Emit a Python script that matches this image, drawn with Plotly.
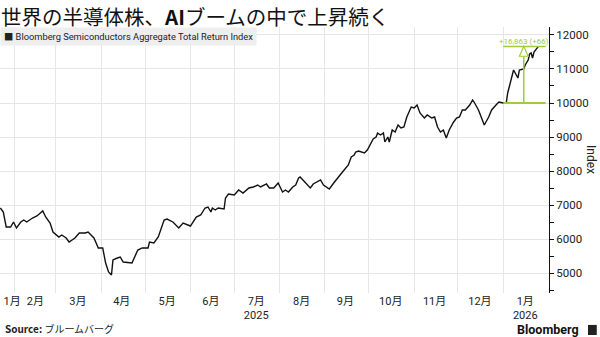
import plotly.graph_objects as go

# ---- data ----
dates = [
    "2025-01-22", "2025-01-24", "2025-01-26", "2025-01-29", "2025-01-31", "2025-02-02", "2025-02-05",
    "2025-02-07", "2025-02-09", "2025-02-13", "2025-02-16", "2025-02-20", "2025-02-22", "2025-02-25",
    "2025-02-27", "2025-03-03", "2025-03-05", "2025-03-08", "2025-03-10", "2025-03-12", "2025-03-14",
    "2025-03-17", "2025-03-21", "2025-03-23", "2025-03-27", "2025-03-30", "2025-04-02", "2025-04-04",
    "2025-04-06", "2025-04-08", "2025-04-09", "2025-04-12", "2025-04-14", "2025-04-16", "2025-04-20",
    "2025-04-22", "2025-04-26", "2025-04-29", "2025-05-03", "2025-05-04", "2025-05-07", "2025-05-10",
    "2025-05-14", "2025-05-16", "2025-05-20", "2025-05-24", "2025-05-27", "2025-05-31", "2025-06-01",
    "2025-06-05", "2025-06-08", "2025-06-11", "2025-06-13", "2025-06-15", "2025-06-16", "2025-06-18",
    "2025-06-20", "2025-06-24", "2025-06-25", "2025-06-27", "2025-07-01", "2025-07-04", "2025-07-07",
    "2025-07-11", "2025-07-14", "2025-07-17", "2025-07-19", "2025-07-23", "2025-07-25", "2025-07-28",
    "2025-07-31", "2025-08-03", "2025-08-05", "2025-08-07", "2025-08-10", "2025-08-12", "2025-08-14",
    "2025-08-15", "2025-08-19", "2025-08-22", "2025-08-24", "2025-08-29", "2025-08-31", "2025-09-04",
    "2025-09-07", "2025-09-10", "2025-09-13", "2025-09-17", "2025-09-19", "2025-09-21", "2025-09-22",
    "2025-09-24", "2025-09-28", "2025-09-30", "2025-10-04", "2025-10-06", "2025-10-07", "2025-10-09",
    "2025-10-11", "2025-10-12", "2025-10-14", "2025-10-15", "2025-10-17", "2025-10-19", "2025-10-21",
    "2025-10-23", "2025-10-25", "2025-10-27", "2025-10-30", "2025-11-01", "2025-11-03", "2025-11-05",
    "2025-11-08", "2025-11-10", "2025-11-13", "2025-11-15", "2025-11-17", "2025-11-19", "2025-11-21",
    "2025-11-23", "2025-11-25", "2025-11-28", "2025-11-30", "2025-12-02", "2025-12-04", "2025-12-06",
    "2025-12-09", "2025-12-11", "2025-12-12", "2025-12-15", "2025-12-17", "2025-12-19", "2025-12-22",
    "2025-12-24", "2025-12-27", "2025-12-29", "2026-01-01", "2026-01-03", "2026-01-04", "2026-01-06",
    "2026-01-08", "2026-01-11", "2026-01-12", "2026-01-15", "2026-01-16", "2026-01-18", "2026-01-19",
    "2026-01-20", "2026-01-21", "2026-01-22", "2026-01-24", "2026-01-25",
]
index_values = [
    6912, 6794, 6353, 6353, 6500, 6324, 6500,
    6559, 6500, 6618, 6677, 6824, 6647, 6471,
    6206, 6059, 6118, 6030, 5912, 5971, 6030,
    6177, 6177, 6206, 6030, 5736, 5736, 5294,
    5030, 4941, 5383, 5441, 5471, 5324, 5294,
    5294, 5677, 5736, 5736, 5912, 5883, 6059,
    6559, 6588, 6500, 6324, 6471, 6412, 6382,
    6647, 6706, 6912, 6941, 6794, 6912, 6853,
    6912, 6882, 7206, 7324, 7294, 7441, 7353,
    7500, 7530, 7588, 7530, 7618, 7500, 7500,
    7647, 7382, 7441, 7382, 7530, 7588, 7794,
    7824, 7647, 7500, 7618, 7735, 7588, 7471,
    7647, 7794, 7971, 8177, 8412, 8471, 8559,
    8588, 8529, 8618, 8941, 9000, 9118, 9059,
    9118, 8853, 9000, 8853, 9206, 9147, 9353,
    9265, 9294, 9588, 9882, 9853, 9941, 9706,
    9559, 9647, 9559, 9588, 9294, 9147, 9206,
    8971, 9206, 9441, 9559, 9588, 9794, 9794,
    9941, 10088, 10029, 9794, 9588, 9353, 9588,
    9794, 9941, 10029, 10000, 10000, 10294, 10618,
    10971, 10735, 10971, 11000, 11118, 11265, 11441,
    11471, 11324, 11500, 11618, 11665,
]

month_starts = [
    "2025-02-01", "2025-03-01", "2025-04-01", "2025-05-01", "2025-06-01", "2025-07-01",
    "2025-08-01", "2025-09-01", "2025-10-01", "2025-11-01", "2025-12-01", "2026-01-01",
]
month_label_dates = [
    "2025-01-30", "2025-02-15", "2025-03-16", "2025-04-15", "2025-05-16", "2025-06-15",
    "2025-07-16", "2025-08-16", "2025-09-15", "2025-10-16", "2025-11-15", "2025-12-16", "2026-01-16",
]
month_labels = ["1月", "2月", "3月", "4月", "5月", "6月", "7月<br>2025", "8月", "9月",
                "10月", "11月", "12月", "1月<br>2026"]
y_ticks = [5000, 6000, 7000, 8000, 9000, 10000, 11000, 12000]
y_tick_labels = ["5000", "6000", "7000", "8000", "9000", "10000", "11000", "12000"]

title_text = "世界の半導体株、<b>AI</b>ブームの中で上昇続く"
legend_text = "■ Bloomberg Semiconductors Aggregate Total Return Index"
source_text = "<b>Source:</b> ブルームバーグ"
delta_text = "+16,863 (+66)"

# ---- figure ----
GREEN = "#9fcc3b"
GRID = "#e6e6e6"
FONT = "Roboto, 'Noto Sans CJK JP', sans-serif"

fig = go.Figure()
fig.add_trace(go.Scatter(
    x=dates, y=index_values, mode="lines",
    line=dict(color="#111111", width=1.4), hoverinfo="skip", showlegend=False,
))

# change marker from start of year to the latest value
base_date = "2026-01-01"
base_val = index_values[dates.index(base_date)]
last_val = index_values[-1]
mark_date = "2026-01-15"
mark_end = "2026-01-30"

fig.add_shape(type="line", xref="x", yref="y", x0=base_date, x1=mark_end,
              y0=base_val, y1=base_val, line=dict(color=GREEN, width=2))
fig.add_shape(type="line", xref="x", yref="y", x0=base_date, x1=mark_end,
              y0=last_val, y1=last_val, line=dict(color=GREEN, width=1.5))
fig.add_shape(type="line", xref="x", yref="y", x0=mark_date, x1=mark_date,
              y0=base_val, y1=last_val - 280, line=dict(color=GREEN, width=1.5))
fig.add_shape(type="path", xref="x", yref="y",
              path=f"M 2026-01-12 {last_val - 290} L 2026-01-15 {last_val} L 2026-01-18 {last_val - 290} Z",
              line=dict(color=GREEN, width=1.2), fillcolor="white")
fig.add_annotation(xref="x", yref="y", x="2026-01-15", y=last_val, yshift=5,
                   text=delta_text, showarrow=False, font=dict(size=8, color=GREEN, family=FONT),
                   xanchor="center", yanchor="middle")

# title
fig.add_annotation(xref="paper", yref="paper", x=0, y=1.1015, xanchor="left", yanchor="top",
                   text=title_text, showarrow=False, borderpad=0,
                   font=dict(size=20.5, color="#111111", family="'Noto Sans CJK JP', sans-serif"))
# legend box
fig.add_annotation(xref="paper", yref="paper", x=0, y=0.964, xanchor="left", yanchor="middle",
                   text=legend_text, showarrow=False, bgcolor="#eeeeee", borderpad=3,
                   font=dict(size=9.3, color="#222222", family=FONT))
# source
fig.add_annotation(xref="paper", yref="paper", x=0.005, y=-0.135, xanchor="left", yanchor="middle",
                   text=source_text, showarrow=False,
                   font=dict(size=10, color="#222222", family="'Noto Sans CJK JP', sans-serif"))
# Bloomberg logo
fig.add_annotation(xref="paper", yref="paper", x=1.058, y=-0.139, xanchor="right", yanchor="middle",
                   text="<b>Bloomberg</b>", showarrow=False,
                   font=dict(size=12.5, color="#111111", family=FONT))
fig.add_shape(type="rect", xref="paper", yref="paper", x0=1.071, x1=1.087, y0=-0.158, y1=-0.12,
              line=dict(width=0), fillcolor="#222222")
# axis title
fig.add_annotation(xref="paper", yref="paper", x=1.0765, y=0.5, xanchor="center", yanchor="middle",
                   text="Index", textangle=90, showarrow=False,
                   font=dict(size=12, color="#222222", family=FONT))

fig.update_layout(
    width=600, height=337,
    margin=dict(l=0, r=51, t=27, b=44),
    paper_bgcolor="white", plot_bgcolor="white",
    font=dict(family=FONT, size=11, color="#222222"),
    showlegend=False,
    xaxis=dict(
        type="date",
        range=["2025-01-21 18:00", "2026-02-01 06:00"],
        tickmode="array", tickvals=month_label_dates, ticktext=month_labels,
        ticks="", showgrid=False, showline=False, zeroline=False,
        tickfont=dict(size=11, color="#222222", family=FONT),
        minor=dict(tickmode="array", tickvals=month_starts, showgrid=True,
                   gridcolor=GRID, gridwidth=1, ticks=""),
    ),
    yaxis=dict(
        side="right", range=[4412, 12235],
        tickmode="array", tickvals=y_ticks, ticktext=y_tick_labels,
        showgrid=True, gridcolor=GRID, gridwidth=1,
        showline=True, linecolor="#111111", linewidth=1,
        ticks="outside", ticklen=4, tickcolor="#111111",
        minor=dict(dtick=500, tick0=0, ticks="outside", ticklen=4, tickcolor="#111111", showgrid=False),
        tickfont=dict(size=11.5, color="#222222", family=FONT),
        zeroline=False,
    ),
)

fig.write_html("out.html")
